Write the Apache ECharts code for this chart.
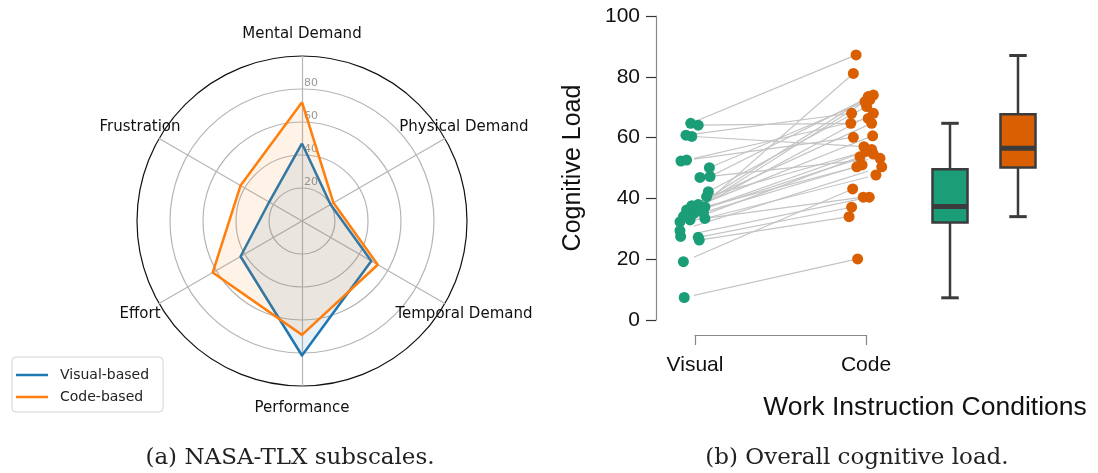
<!DOCTYPE html>
<html>
<head>
<meta charset="utf-8">
<script src="https://cdn.jsdelivr.net/npm/echarts@6/dist/echarts.min.js"></script>
<style>
html,body{margin:0;padding:0;background:#fff;}
#chart{width:1098px;height:473px;}
</style>
</head>
<body>
<div id="chart"></div>
<script>
// ---------- Data: NASA-TLX radar (counter-clockwise order from top) ----------
const tlxAxes = ['Mental Demand', 'Frustration', 'Effort', 'Performance', 'Temporal Demand', 'Physical Demand'];
const visualTLX = [47, 23, 43, 81.5, 48.5, 20];
const codeTLX = [72, 43, 62.5, 69, 53, 22];
const seriesNames = ['Visual-based', 'Code-based'];

// ---------- Data: cognitive load, paired per participant ----------
const conditions = ['Visual', 'Code'];
const visualLoad = [64.7, 64.1, 60.8, 60.4, 52.6, 52.3, 50.1, 47.2, 46.9, 42.2, 40.6, 38.0, 37.6, 37.2, 36.8, 36.2, 35.6, 35.4, 35.0, 34.5, 34.0, 33.4, 32.9, 32.3, 29.4, 27.5, 27.2, 26.3, 19.2, 7.4];
const visualJitter = [-0.025, 0.019, -0.053, -0.019, -0.049, -0.082, 0.084, 0.088, 0.029, 0.078, 0.068, 0.019, -0.019, 0.058, 0.010, -0.049, 0, 0.049, -0.010, -0.058, -0.068, 0.058, -0.029, -0.088, -0.088, -0.084, 0.019, 0.025, -0.068, -0.063];
const codeLoad = [87.2, 64.7, 68.0, 57.0, 66.3, 60.1, 72.5, 74.0, 53.2, 70.2, 55.5, 73.5, 64.7, 50.4, 68.0, 60.6, 54.6, 51.0, 81.1, 56.1, 71.8, 47.7, 53.7, 40.4, 50.4, 40.4, 37.1, 34.0, 43.1, 20.1];
const codeJitter = [-0.058, -0.089, -0.084, -0.012, 0.013, -0.074, 0.023, 0.043, 0.082, 0.004, 0, 0.013, 0.033, -0.054, 0.043, 0.039, 0.043, -0.023, -0.074, 0.033, -0.006, 0.058, -0.035, -0.016, 0.092, 0.019, -0.084, -0.099, -0.078, -0.049];
// box stats: [min, Q1, median, Q3, max]
const visualBox = [7.3, 32.1, 37.3, 49.6, 64.7];
const codeBox = [34, 50.2, 56.5, 67.7, 87];
const yTicks = [0, 20, 40, 60, 80, 100];

// ---------- Styles ----------
const blue = '#1f77b4', orange = '#ff7f0e';
const green = '#1b9e77', dOrange = '#d95f02';
const boxColors = [green, dOrange];
const boxStroke = '#3b3b3b';

const chart = echarts.init(document.getElementById('chart'), null, {renderer: 'canvas'});

const indicators = tlxAxes.map((n, i) => {
  const ind = {name: n, max: 100, min: 0};
  if (i === 0) {
    ind.axisLabel = {
      show: true, color: '#999', fontSize: 11, fontFamily: 'DejaVu Sans',
      margin: -2, align: 'left', verticalAlign: 'bottom',
      formatter: v => (v > 0 && v < 100) ? String(v) : ''
    };
  }
  return ind;
});

const pairLines = visualLoad.map((v, i) => ({
  coords: [[visualJitter[i], v], [1 + codeJitter[i], codeLoad[i]]]
}));

const option = {
  animation: false,
  backgroundColor: '#fff',
  legend: {
    data: seriesNames,
    orient: 'vertical',
    left: 12, top: 357,
    padding: [11, 14, 8, 4],
    itemGap: 8,
    itemWidth: 32, itemHeight: 2.5,
    icon: 'rect',
    backgroundColor: '#fff',
    borderColor: '#d3d3d3', borderWidth: 1, borderRadius: 4,
    textStyle: {fontFamily: 'DejaVu Sans', fontSize: 14, color: '#222', padding: [0, 0, 0, 7]}
  },
  radar: {
    center: [302, 221],
    radius: 165,
    startAngle: 90,
    shape: 'circle',
    splitNumber: 5,
    indicator: indicators,
    nameGap: 22,
    axisName: {color: '#111', fontFamily: 'DejaVu Sans', fontSize: 15, align: 'center', verticalAlign: 'middle'},
    axisLine: {lineStyle: {color: '#b5b5b5', width: 1.2}},
    axisTick: {show: false},
    axisLabel: {show: false},
    splitLine: {lineStyle: {color: ['#b5b5b5', '#b5b5b5', '#b5b5b5', '#b5b5b5', '#b5b5b5', '#111'], width: 1.2}},
    splitArea: {show: false}
  },
  grid: [
    {left: 695, width: 171, top: 16, height: 304},
    {left: 916, width: 136, top: 16, height: 304}
  ],
  xAxis: [
    {
      gridIndex: 0, type: 'value', min: 0, max: 1, interval: 1, offset: 15,
      splitLine: {show: false},
      axisLine: {show: true, onZero: false, lineStyle: {color: '#888', width: 1.2}},
      axisTick: {show: true, length: 10, lineStyle: {color: '#888', width: 1.2}},
      axisLabel: {margin: 20, color: '#111', fontSize: 21, fontFamily: 'Liberation Sans',
        formatter: v => conditions[Math.round(v)] || ''}
    },
    {gridIndex: 1, type: 'category', data: conditions, show: false}
  ],
  yAxis: [
    {
      gridIndex: 0, type: 'value', min: 0, max: 100, interval: 20, offset: 39,
      name: 'Cognitive Load', nameLocation: 'middle', nameGap: 70,
      nameTextStyle: {fontFamily: 'Liberation Sans', fontSize: 25, color: '#111'},
      splitLine: {show: false},
      axisLine: {show: true, onZero: false, lineStyle: {color: '#888', width: 1.2}},
      axisTick: {show: true, length: 10, lineStyle: {color: '#333', width: 1.2}},
      axisLabel: {margin: 16, color: '#111', fontSize: 21, fontFamily: 'Liberation Sans',
        formatter: v => yTicks.includes(v) ? String(v) : ''}
    },
    {gridIndex: 1, type: 'value', min: 0, max: 100, show: false}
  ],
  series: [
    {
      type: 'radar',
      symbol: 'none',
      data: [
        {name: seriesNames[0], value: visualTLX, lineStyle: {color: blue, width: 2.5}, itemStyle: {color: blue}, areaStyle: {color: blue, opacity: 0.1}},
        {name: seriesNames[1], value: codeTLX, lineStyle: {color: orange, width: 2.5}, itemStyle: {color: orange}, areaStyle: {color: orange, opacity: 0.1}}
      ]
    },
    {
      type: 'lines', coordinateSystem: 'cartesian2d', xAxisIndex: 0, yAxisIndex: 0,
      data: pairLines, silent: true, z: 1,
      lineStyle: {color: '#c4c4c4', width: 1.2, opacity: 1}
    },
    {
      type: 'scatter', xAxisIndex: 0, yAxisIndex: 0, clip: false, z: 3,
      symbolSize: 11, itemStyle: {color: green, opacity: 1},
      data: visualLoad.map((v, i) => [visualJitter[i], v])
    },
    {
      type: 'scatter', xAxisIndex: 0, yAxisIndex: 0, clip: false, z: 3,
      symbolSize: 11, itemStyle: {color: dOrange, opacity: 1},
      data: codeLoad.map((v, i) => [1 + codeJitter[i], v])
    },
    {
      type: 'custom', xAxisIndex: 1, yAxisIndex: 1,
      data: [[0].concat(visualBox), [1].concat(codeBox)],
      renderItem: function (params, api) {
        const c = api.value(0);
        const pMin = api.coord([c, api.value(1)]);
        const pQ1 = api.coord([c, api.value(2)]);
        const pMed = api.coord([c, api.value(3)]);
        const pQ3 = api.coord([c, api.value(4)]);
        const pMax = api.coord([c, api.value(5)]);
        const bw = api.size([1, 0])[0] * 0.515;
        const cap = bw * 0.5;
        const cx = pMin[0];
        const ls = {stroke: boxStroke, lineWidth: 2.5};
        return {
          type: 'group',
          children: [
            {type: 'line', shape: {x1: cx, y1: pMax[1], x2: cx, y2: pQ3[1]}, style: ls},
            {type: 'line', shape: {x1: cx, y1: pQ1[1], x2: cx, y2: pMin[1]}, style: ls},
            {type: 'line', shape: {x1: cx - cap / 2, y1: pMax[1], x2: cx + cap / 2, y2: pMax[1]}, style: {stroke: boxStroke, lineWidth: 3}},
            {type: 'line', shape: {x1: cx - cap / 2, y1: pMin[1], x2: cx + cap / 2, y2: pMin[1]}, style: {stroke: boxStroke, lineWidth: 3}},
            {type: 'rect', shape: {x: cx - bw / 2, y: pQ3[1], width: bw, height: pQ1[1] - pQ3[1]},
              style: {fill: boxColors[c], stroke: boxStroke, lineWidth: 2.5}},
            {type: 'line', shape: {x1: cx - bw / 2, y1: pMed[1], x2: cx + bw / 2, y2: pMed[1]}, style: {stroke: boxStroke, lineWidth: 5}}
          ]
        };
      }
    }
  ],
  graphic: [
    {type: 'text', x: 925, y: 408, style: {text: 'Work Instruction Conditions', align: 'center', verticalAlign: 'middle', font: '26.5px "Liberation Sans"', fill: '#111'}},
    {type: 'text', x: 290, y: 458, style: {text: '(a) NASA-TLX subscales.', align: 'center', verticalAlign: 'middle', font: '23px "DejaVu Serif"', fill: '#222'}},
    {type: 'text', x: 857, y: 458, style: {text: '(b) Overall cognitive load.', align: 'center', verticalAlign: 'middle', font: '23px "DejaVu Serif"', fill: '#222'}}
  ]
};

chart.setOption(option);
</script>
</body>
</html>
